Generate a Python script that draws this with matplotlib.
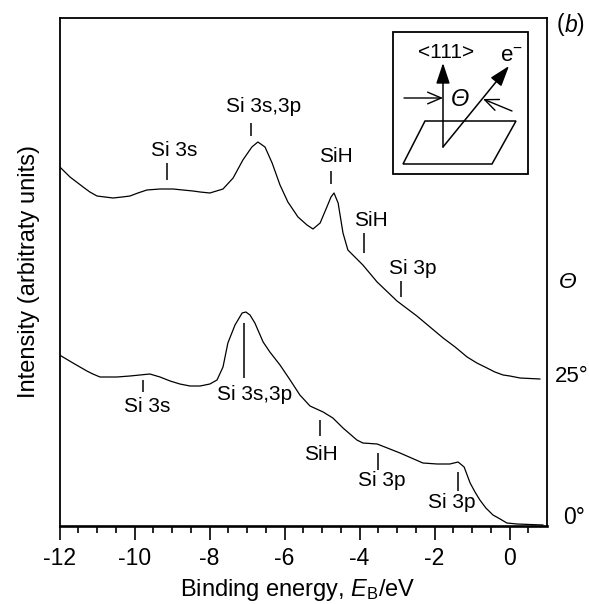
import matplotlib
matplotlib.use('Agg')
import matplotlib.pyplot as plt
from matplotlib.patches import Polygon, Rectangle

plt.rcParams['font.family'] = ['Liberation Sans', 'DejaVu Sans']
plt.rcParams['mathtext.fontset'] = 'custom'
plt.rcParams['mathtext.rm'] = 'Liberation Sans'
plt.rcParams['mathtext.it'] = 'Liberation Sans:italic'

# upper curve, 25 deg
energy_25 = [-11.99, -11.72, -11.37, -11.19, -11.0, -10.79, -10.57, -10.33, -10.12, -9.91, -9.67, -9.32, -8.97,
             -8.71, -8.44, -8.25, -7.99, -7.64, -7.37, -7.11, -6.87, -6.71, -6.52, -6.33, -6.12, -5.91, -5.64,
             -5.4, -5.24, -5.05, -4.87, -4.76, -4.68, -4.57, -4.44, -4.31, -4.07, -3.91, -3.53, -3.0, -2.47,
             -2.12, -1.77, -1.45, -1.13, -0.87, -0.6, -0.39, -0.17, 0.01, 0.28, 0.81]
intensity_25 = [359, 349, 339, 334, 330, 329, 328, 329, 330, 333, 336, 337, 337,
                336, 335, 334, 333, 337, 348, 366, 379, 384, 379, 363, 341, 324, 309,
                301, 297, 303, 319, 329, 333, 323, 293, 276, 267, 261, 244, 225, 210,
                199, 188, 179, 169, 163, 158, 154, 151, 150, 148, 147]

# lower curve, 0 deg
energy_0 = [-12.0, -11.64, -11.27, -11.11, -10.92, -10.71, -10.47, -10.12, -9.59, -9.32, -9.05, -8.79, -8.52,
            -8.25, -7.99, -7.8, -7.64, -7.51, -7.32, -7.13, -7.03, -6.92, -6.79, -6.57, -6.39, -6.12, -5.85,
            -5.59, -5.32, -4.97, -4.71, -4.44, -4.07, -3.91, -3.53, -3.19, -2.92, -2.31, -1.93, -1.59, -1.37,
            -1.21, -1.05, -0.92, -0.79, -0.63, -0.44, -0.25, -0.07, 0.2, 0.89]
intensity_0 = [171, 163, 155, 152, 149, 149, 149, 150, 152, 149, 145, 142, 140,
               140, 142, 146, 159, 183, 201, 213, 214, 211, 203, 184, 174, 161, 146,
               131, 120, 114, 108, 98, 86, 83, 82, 77, 73, 63, 62, 62, 64,
               59, 43, 34, 26, 18, 11, 7, 3, 2, 1]

# peak markers: label, energy, bottom and top of the short line
peak_labels = ['Si 3s', 'Si 3s,3p', 'SiH', 'SiH', 'Si 3p', 'Si 3s', 'Si 3s,3p', 'SiH', 'Si 3p', 'Si 3p']
peak_energy = [-9.13, -6.89, -4.76, -3.88, -2.89, -9.77, -7.09, -5.05, -3.51, -1.37]
peak_low = [346, 390, 342, 273, 229, 134, 148, 90, 56, 35]
peak_high = [363, 403, 355, 293, 245, 146, 203, 106, 73, 54]

xticks = [-12, -10, -8, -6, -4, -2, 0]

fig = plt.figure(figsize=(5.89, 6.04), dpi=100)
ax = fig.add_axes([59.5 / 589, 78 / 604, 487.5 / 589, 508.5 / 604])

ax.plot(energy_25, intensity_25, color='black', lw=0.9)
ax.plot(energy_0, intensity_0, color='black', lw=0.9)
ax.vlines(peak_energy, peak_low, peak_high, color='black', lw=1.1)

ax.set_xlim(-12, 1)
ax.set_ylim(0, 508.5)
ax.set_yticks([])
ax.set_xticks(xticks)
ax.set_xticklabels([str(t) for t in xticks], fontsize=16.5)
ax.set_xticks([t / 2 for t in range(-23, 2)], minor=True)
ax.tick_params(axis='x', which='major', length=10, width=1.2, pad=5)
ax.tick_params(axis='x', which='minor', length=5, width=1.2)
for s in ax.spines.values():
    s.set_linewidth(1.3)
ax.spines['bottom'].set_linewidth(1.9)

ax.set_xlabel('Binding energy, $\\mathit{E}_{\\mathrm{B}}$/eV', fontsize=17, labelpad=5)
ax.xaxis.label.set_x(0.489)
ax.set_ylabel('Intensity (arbitraty units)', fontsize=17, labelpad=14)

# where the peak labels sit
label_pos = [(-8.95, 376), (-6.57, 419), (-4.63, 369), (-3.69, 305), (-2.57, 258),
             (-9.67, 119), (-6.81, 131), (-5.03, 71), (-3.4, 45), (-1.53, 23)]
for lab, pos in zip(peak_labels, label_pos):
    ax.text(pos[0], pos[1], lab, ha='center', va='center', fontsize=15)

# overlay in image pixels for the sketch and the side labels
ov = fig.add_axes([0, 0, 1, 1])
ov.set_xlim(0, 589)
ov.set_ylim(604, 0)
ov.axis('off')
ov.patch.set_alpha(0)

ov.text(564, 25, '(', fontsize=16.5, ha='right', va='center')
ov.text(564.5, 25, 'b', fontsize=16.5, ha='left', va='center', style='italic')
ov.text(577, 25, ')', fontsize=16.5, ha='left', va='center')
ov.text(568, 282, 'Θ', fontsize=16.5, ha='center', va='center', style='italic')
ov.text(555, 377, '25°', fontsize=16, ha='left', va='center')
ov.text(563, 518, '0°', fontsize=16.5, ha='left', va='center')

ov.add_patch(Rectangle((393, 32), 135, 142, fill=False, ec='black', lw=1.3))
ov.add_patch(Polygon([(425, 121), (516, 121), (492, 164), (403, 164)], fill=False, ec='black', lw=1.1))
ov.annotate('', xy=(443, 63), xytext=(443, 147),
            arrowprops=dict(arrowstyle='-|>,head_length=0.9,head_width=0.3', color='black', lw=1.1,
                            mutation_scale=14, shrinkA=0, shrinkB=0))
ov.annotate('', xy=(509, 66), xytext=(443, 147),
            arrowprops=dict(arrowstyle='-|>,head_length=0.9,head_width=0.3', color='black', lw=1.1,
                            mutation_scale=14, shrinkA=0, shrinkB=0))
ov.annotate('', xy=(443, 98), xytext=(404, 98),
            arrowprops=dict(arrowstyle='->,head_length=0.7,head_width=0.3', color='black', lw=1.0,
                            mutation_scale=14, shrinkA=0, shrinkB=0))
ov.annotate('', xy=(483, 99), xytext=(512, 111),
            arrowprops=dict(arrowstyle='->,head_length=0.7,head_width=0.3', color='black', lw=1.0,
                            mutation_scale=14, shrinkA=0, shrinkB=0))
ov.text(446, 52, '<111>', fontsize=15, ha='center', va='center')
ov.text(511, 56, 'e$^{-}$', fontsize=16, ha='center', va='center')
ov.text(460, 99, 'Θ', fontsize=17, ha='center', va='center', style='italic')

fig.savefig('out.png', dpi=100)
